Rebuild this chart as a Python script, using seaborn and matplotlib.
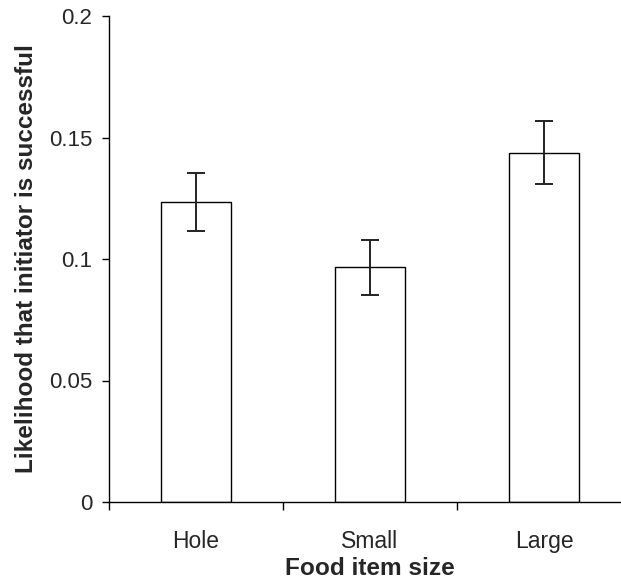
import matplotlib
matplotlib.use("Agg")
import matplotlib.pyplot as plt
import seaborn as sns
import pandas as pd
from matplotlib.ticker import FixedLocator

categories = ["Hole", "Small", "Large"]
values = [0.1235, 0.0966, 0.1437]
errors = [0.012, 0.0114, 0.013]
yticks = [0, 0.05, 0.1, 0.15, 0.2]
ytick_labels = ["0", "0.05", "0.1", "0.15", "0.2"]

sns.set_style("white")
plt.rcParams["font.family"] = ["Liberation Sans", "DejaVu Sans"]

df = pd.DataFrame({"size": categories, "likelihood": values})

fig = plt.figure(figsize=(6.21, 5.84), dpi=100)
ax = fig.add_axes([109 / 621, 82 / 584, 522 / 621, 486 / 584])

sns.barplot(data=df, x="size", y="likelihood", order=categories, ax=ax,
            color="white", edgecolor="black", linewidth=1.0, width=0.4,
            errorbar=None)
ax.errorbar(range(len(categories)), values, yerr=errors, fmt="none",
            ecolor="#222222", elinewidth=1.4, capsize=6.5, capthick=1.4)

ax.set_xlim(-0.5, 2.5)
ax.set_ylim(0, 0.2)
ax.set_yticks(yticks)
ax.set_yticklabels(ytick_labels)
ax.xaxis.set_minor_locator(FixedLocator([-0.5, 0.5, 1.5, 2.5]))
ax.tick_params(axis="x", which="major", length=0, pad=20, labelsize=16.5)
ax.tick_params(axis="x", which="minor", length=6, width=1, direction="out", color="black", bottom=True)
ax.tick_params(axis="y", length=5, width=1, direction="out", color="black", pad=7, labelsize=16, left=True)

for s in ["top", "right"]:
    ax.spines[s].set_visible(False)
for s in ["left", "bottom"]:
    ax.spines[s].set_color("black")
    ax.spines[s].set_linewidth(1.0)

ax.set_xlabel("Food item size", fontsize=17.6, fontweight="bold", labelpad=3)
ax.set_ylabel("Likelihood that initiator is successful", fontsize=17.5, fontweight="bold", labelpad=8)

fig.savefig("out.png", dpi=100)
